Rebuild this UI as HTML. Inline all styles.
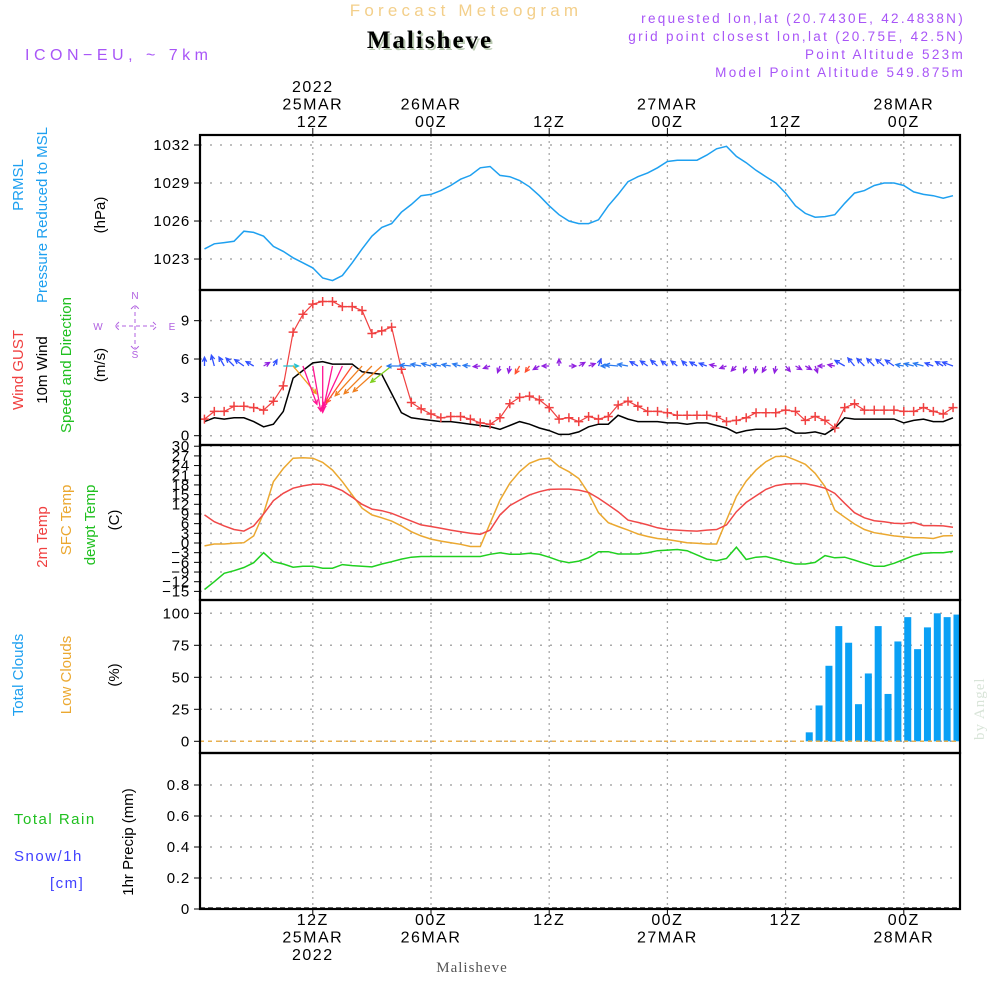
<!DOCTYPE html>
<html><head><meta charset="utf-8"><style>
html,body{margin:0;padding:0;background:#fff;}
svg{display:block;font-family:"Liberation Sans",sans-serif;}
</style></head><body>
<svg id="chart" width="1000" height="1000" xmlns="http://www.w3.org/2000/svg">
<text x="466" y="16" text-anchor="middle" font-size="17" fill="#f3cf8a" letter-spacing="4.2">Forecast Meteogram</text>
<text x="432" y="50" text-anchor="middle" font-size="25" font-weight="bold" font-family="Liberation Serif,serif" fill="#b8c8b0" letter-spacing="2">Malisheve</text>
<text x="430" y="48" text-anchor="middle" font-size="25" font-weight="bold" font-family="Liberation Serif,serif" fill="#000" letter-spacing="2">Malisheve</text>
<text x="25" y="60" font-size="16" fill="#a855f7" letter-spacing="4.5">ICON−EU, ~ 7km</text>
<g font-size="13.5" fill="#a855f7" text-anchor="end" letter-spacing="2.3">
<text x="965" y="23">requested lon,lat (20.7430E, 42.4838N)</text>
<text x="965" y="41">grid point closest lon,lat (20.75E, 42.5N)</text>
<text x="965" y="59">Point Altitude 523m</text>
<text x="965" y="77">Model Point Altitude 549.875m</text>
</g>
<text x="472" y="972" text-anchor="middle" font-size="15" font-family="Liberation Serif,serif" fill="#555" letter-spacing="1">Malisheve</text>
<text transform="translate(984,740) rotate(-90)" font-size="15" font-family="Liberation Serif,serif" fill="#d8e4d8" letter-spacing="1">by Angel</text>
<g id="grid"></g><g id="marks"></g><g id="frames"></g><g id="labels"></g>
</svg>
<script>
// ---- data (hourly from 01Z 25MAR 2022) ----
const hours = [1,2,3,4,5,6,7,8,9,10,11,12,13,14,15,16,17,18,19,20,21,22,23,24,25,26,27,28,29,30,31,32,33,34,35,36,37,38,39,40,41,42,43,44,45,46,47,48,49,50,51,52,53,54,55,56,57,58,59,60,61,62,63,64,65,66,67,68,69,70,71,72,73,74,75,76,77];
const pressure = [1023.8,1024.2,1024.3,1024.4,1025.2,1025.1,1024.8,1024.0,1023.6,1023.1,1022.7,1022.3,1021.5,1021.3,1021.7,1022.7,1023.8,1024.8,1025.5,1025.8,1026.7,1027.3,1028.0,1028.1,1028.4,1028.8,1029.3,1029.6,1030.2,1030.3,1029.6,1029.5,1029.2,1028.7,1028.0,1027.2,1026.5,1026.0,1025.8,1025.8,1026.1,1027.2,1028.1,1029.1,1029.5,1029.8,1030.2,1030.7,1030.8,1030.8,1030.8,1031.2,1031.7,1031.9,1031.1,1030.6,1030.0,1029.5,1029.0,1028.2,1027.2,1026.6,1026.3,1026.35,1026.5,1027.4,1028.2,1028.4,1028.8,1029.0,1029.0,1028.8,1028.3,1028.1,1028.0,1027.8,1028.0];
const gust = [1.3,1.9,1.9,2.3,2.3,2.2,2.0,2.7,3.9,8.1,9.5,10.3,10.5,10.5,10.1,10.1,9.8,8.0,8.2,8.5,5.2,2.6,2.1,1.7,1.4,1.5,1.5,1.3,1.0,0.9,1.4,2.5,3.0,3.1,2.8,2.2,1.3,1.4,1.1,1.5,1.3,1.5,2.4,2.7,2.3,1.9,1.9,1.8,1.6,1.6,1.6,1.6,1.5,1.1,1.2,1.4,1.8,1.8,1.8,2.0,1.9,1.2,1.5,1.2,0.6,2.2,2.5,2.0,2.0,2.0,2.0,1.9,1.9,2.2,1.9,1.7,2.2];
const wind = [1.1,1.4,1.3,1.4,1.4,1.1,0.7,0.9,1.9,4.5,5.1,5.7,5.8,5.6,5.6,5.6,5.0,4.9,4.8,3.3,1.8,1.4,1.3,1.2,1.1,1.1,1.0,0.9,0.8,0.7,0.5,0.8,1.1,0.9,0.6,0.4,0.1,0.1,0.3,0.7,0.9,0.9,1.6,1.3,1.1,1.1,1.1,1.0,1.0,0.9,1.0,1.0,0.8,0.6,0.2,0.4,0.5,0.5,0.5,0.6,0.2,0.2,0.3,0.1,0.6,1.4,1.3,1.3,1.3,1.3,1.3,1.0,1.2,1.3,1.1,1.1,1.4];
const windDir = [0,345,330,315,305,300,60,30,90,140,160,170,180,192,205,215,222,225,228,232,270,275,280,285,280,280,285,275,265,250,200,190,210,215,240,270,0,90,60,70,20,270,275,280,300,305,310,310,310,315,300,290,280,250,225,200,190,210,190,140,120,120,160,270,280,300,320,315,315,310,305,280,285,285,290,300,290];
const temp2m = [8.7,6.6,5.3,4.2,3.7,5.3,9.0,13.1,15.4,17.0,17.7,18.2,18.2,17.5,16.2,14.2,12.0,10.5,10.0,9.2,8.0,6.8,5.6,5.1,4.6,4.0,3.5,3.0,2.7,4.0,8.7,11.6,13.3,14.9,15.9,16.6,16.7,16.7,16.4,15.7,13.9,11.8,9.7,7.1,6.4,5.6,4.7,4.2,4.0,3.8,3.7,4.0,4.2,5.6,9.7,12.6,14.6,16.6,17.8,18.3,18.4,18.4,17.8,17.0,15.4,12.3,9.4,7.8,6.9,6.6,6.1,6.0,6.4,5.4,5.4,5.3,4.9];
const sfcTemp = [-0.9,-0.3,-0.3,-0.1,0.1,2.2,9.2,19.0,23.1,26.3,26.4,26.3,25.0,22.6,19.0,14.9,10.8,8.7,7.8,6.8,5.3,3.5,2.2,1.2,0.6,0.1,-0.4,-1.1,-1.1,6.1,13.3,18.5,22.1,24.7,25.9,26.3,23.7,22.1,20.0,15.4,9.4,6.3,5.1,4.0,2.8,2.0,1.4,1.1,0.6,0.1,-0.1,-0.3,-0.3,7.1,14.4,19.2,22.6,25.2,26.8,26.9,25.7,24.4,21.6,17.5,10.2,8.0,5.9,4.2,3.2,2.7,2.2,1.9,1.6,1.6,1.4,2.2,2.3];
const dewpt = [-14.4,-12.0,-9.4,-8.6,-7.6,-6.1,-3.0,-5.8,-6.5,-7.5,-7.2,-7.2,-7.8,-7.8,-6.7,-7.0,-7.2,-7.4,-6.5,-5.8,-5.0,-4.4,-4.2,-4.2,-4.2,-4.2,-4.2,-4.2,-4.2,-3.5,-3.0,-3.5,-3.5,-3.2,-3.5,-4.4,-5.5,-6.1,-5.6,-4.6,-2.7,-2.7,-3.4,-3.4,-3.4,-3.0,-2.4,-2.2,-2.0,-2.4,-3.7,-5.0,-5.5,-4.8,-1.3,-5.1,-4.4,-4.2,-5.0,-5.8,-6.5,-6.5,-6.0,-3.9,-4.6,-4.4,-5.3,-6.3,-7.2,-7.2,-6.3,-5.1,-3.9,-3.2,-3.0,-3.0,-2.6];
const cloudHours = [62,63,64,65,66,67,68,69,70,71,72,73,74,75,76,77];
const totalClouds = [7,28,59,90,77,29,53,90,37,78,97,72,89,100,97,99];
const precip = [];
const timeTicks = [12,24,36,48,60,72];
const topLabels = [["2022","25MAR","12Z"],["","26MAR","00Z"],["","","12Z"],["","27MAR","00Z"],["","","12Z"],["","28MAR","00Z"]];
const botLabels = [["12Z","25MAR","2022"],["00Z","26MAR",""],["12Z","",""],["00Z","27MAR",""],["12Z","",""],["00Z","28MAR",""]];
const pTicks = [1023,1026,1029,1032];
const wTicks = [0,3,6,9];
const tTicks = [30,27,24,21,18,15,12,9,6,3,0,-3,-6,-9,-12,-15];
const cTicks = [0,25,50,75,100];
const rTicks = [0,0.2,0.4,0.6,0.8];

const NS="http://www.w3.org/2000/svg";
const L=200,R=960;
const X=t=>312.8+(t-12)*9.85;
const yP=v=>145+(1032-v)*12.67;
const yW=v=>435.7-v*12.78;
const yT=v=>543-v*3.226;
const yC=v=>741.3-v*1.28;
const yR=v=>909-v*155;
const panels=[[135,290],[290,445],[445,600],[600,753],[753,909]];
function el(tag,attrs,parent,txt){const e=document.createElementNS(NS,tag);for(const k in attrs)e.setAttribute(k,attrs[k]);if(txt!==undefined)e.textContent=txt;parent.appendChild(e);return e;}
const grid=document.getElementById('grid'),marks=document.getElementById('marks'),frames=document.getElementById('frames'),labels=document.getElementById('labels');

timeTicks.forEach((t,i)=>{
  const g=el('line',{x1:X(t),x2:X(t),y1:135,y2:909,stroke:'#aaa','stroke-width':1.3,'stroke-dasharray':'2,4'},grid);
  
  
  topLabels[i].forEach((s,j)=>{ if(!s)return; const tx=el('text',{x:X(t),y:92+j*17.5,'text-anchor':'middle','font-size':16,'letter-spacing':1.5},labels,s);
    
    });
  botLabels[i].forEach((s,j)=>{ if(!s)return; const tx=el('text',{x:X(t),y:925+j*17.5,'text-anchor':'middle','font-size':16,'letter-spacing':1.5},labels,s);
    
    });
  el('line',{x1:X(t),x2:X(t),y1:128,y2:135,stroke:'#000','stroke-width':1},frames);
  el('line',{x1:X(t),x2:X(t),y1:909,y2:915,stroke:'#000','stroke-width':1},frames);
});
function hgrid(ticks,yf,fmt,name){
  ticks.forEach(v=>{
    const g=el('line',{x1:L,x2:R,y1:yf(v),y2:yf(v),stroke:'#aaa','stroke-width':1.5,'stroke-dasharray':'2,8'},grid);
    
    
    el('line',{x1:L-6,x2:L,y1:yf(v),y2:yf(v),stroke:'#000','stroke-width':1},frames);
    const tx=el('text',{x:L-10,y:yf(v)+5,'text-anchor':'end','font-size':15,'letter-spacing':0.8},labels,fmt(v));
    
    
  });
}
hgrid(pTicks,yP,v=>String(v),'pressure');
hgrid(wTicks,yW,v=>String(v),'wind');
hgrid(tTicks,yT,v=>v<0?'−'+(-v):String(v),'temp');
hgrid(cTicks,yC,v=>String(v),'cloud');
hgrid(rTicks,yR,v=>v===0?'0':v.toFixed(1),'precip');

function line(vals,ts,yf,color,name,w){
  const d=vals.map((v,i)=>(i?'L':'M')+X(ts[i]).toFixed(1)+','+yf(v).toFixed(1)).join('');
  const p=el('path',{d:d,fill:'none',stroke:color,'stroke-width':w||1.5},marks);
  
  
  return p;
}
line(pressure,hours,yP,'#1ea0f0','pressure-line');
line(wind,hours,yW,'#000','wind-speed-line');
line(gust,hours,yW,'#f04040','wind-gust-line',1.2);
gust.forEach((v,i)=>{const x=X(hours[i]),y=yW(v);
  const c=el('path',{d:`M${x-4.5},${y}H${x+4.5}M${x},${y-4.5}V${y+4.5}`,stroke:'#f04040','stroke-width':1.5},marks);
  
  });
function arrowColor(dir,sp){
  if(sp<0.85)return '#9020e0';
  if(dir>=60&&dir<120)return '#20c0d0';
  if(dir>=120&&dir<150)return '#f0a020';
  if(dir>=150&&dir<210)return '#ff1493';
  if(dir>=210&&dir<220)return '#ff5030';
  if(dir>=220&&dir<230)return '#f08020';
  if(dir>=230&&dir<250)return '#80d020';
  if(dir>=250&&dir<290)return '#2a7af0';
  return '#3050ff';
}
windDir.forEach((dir,i)=>{
  const sp=wind[i],len=Math.max(7,sp*8),r=dir*Math.PI/180;
  const x0=X(hours[i]),y0=366,x1=x0+Math.sin(r)*len,y1=y0-Math.cos(r)*len;
  const a1=r+Math.PI-0.45,a2=r+Math.PI+0.45;
  const col=arrowColor(dir,sp);
  const d=`M${x0.toFixed(1)},${y0}L${x1.toFixed(1)},${y1.toFixed(1)}M${(x1+Math.sin(a1)*5).toFixed(1)},${(y1-Math.cos(a1)*5).toFixed(1)}L${x1.toFixed(1)},${y1.toFixed(1)}L${(x1+Math.sin(a2)*5).toFixed(1)},${(y1-Math.cos(a2)*5).toFixed(1)}`;
  const a=el('path',{d:d,fill:'none',stroke:col,'stroke-width':1.3},marks);
  
  
});
line(sfcTemp,hours,yT,'#eba830','sfc-temp-line');
line(temp2m,hours,yT,'#f04848','temp-2m-line');
line(dewpt,hours,yT,'#20d020','dewpoint-line');
cloudHours.forEach((t,i)=>{
  const x=X(t+0.4),y=yC(totalClouds[i]);
  const b=el('rect',{x:x-3.5,y:y,width:7,height:yC(0)-y,fill:'#0aa0f5'},marks);
  
  
});
const lc=el('line',{x1:L,x2:R,y1:yC(0),y2:yC(0),stroke:'#e8b050','stroke-width':1.5,'stroke-dasharray':'4,4'},marks);


const pl=el('line',{x1:L,x2:R,y1:yR(0)-1,y2:yR(0)-1,stroke:'#333','stroke-width':1.5,'stroke-dasharray':'5,3'},marks);



panels.forEach(([a,b])=>{
  const f=el('rect',{x:L,y:a,width:R-L,height:b-a,fill:'none',stroke:'#000','stroke-width':2.2},frames);
  
  
});

function vlabel(x,y,text,color,name,size){
  const t=el('text',{transform:`translate(${x},${y}) rotate(-90)`,'text-anchor':'middle','font-size':size||15,fill:color},labels,text);
  
  
}
vlabel(23,185,'PRMSL','#1ea0f0','prmsl-label');
vlabel(47,215,'Pressure Reduced to MSL','#1ea0f0','pressure-axis-title');
vlabel(105,215,'(hPa)','#000','pressure-unit');
vlabel(23,370,'Wind GUST','#f04040','gust-axis-title');
vlabel(47,370,'10m Wind','#000','wind-axis-title');
vlabel(71,365,'Speed and Direction','#20c020','wind-direction-title');
vlabel(105,365,'(m/s)','#000','wind-unit');
vlabel(47,537,'2m Temp','#f04040','temp-2m-title');
vlabel(71,520,'SFC Temp','#eba830','sfc-temp-title');
vlabel(95,525,'dewpt Temp','#20c020','dewpoint-title');
vlabel(119,520,'(C)','#000','temp-unit');
vlabel(23,675,'Total Clouds','#1ea0f0','total-clouds-title');
vlabel(71,675,'Low Clouds','#eba830','low-clouds-title');
vlabel(119,675,'(%)','#000','cloud-unit');
vlabel(133,842,'1hr Precip (mm)','#000','precip-axis-title');
[['Total  Rain',14,824,'#20c020','rain-label'],['Snow/1h',14,861,'#4040ff','snow-label'],['[cm]',50,888,'#4040ff','snow-unit']].forEach(a=>{
  const t=el('text',{x:a[1],y:a[2],'font-size':15,fill:a[3],'letter-spacing':1.5,'xml:space':'preserve'},labels,a[0]);
  
  
});
const cg=el('g',{fill:'#b060e0','font-size':10,'text-anchor':'middle'},labels);


el('text',{x:135,y:299},cg,'N');el('text',{x:135,y:358},cg,'S');el('text',{x:98,y:330},cg,'W');el('text',{x:172,y:330},cg,'E');
el('path',{d:'M115,326H157M135,305V350M119,322L115,326L119,330M153,322L157,326L153,330M131,309L135,305L139,309M131,346L135,350L139,346',stroke:'#b060e0','stroke-width':1,fill:'none','stroke-dasharray':'4,3'},cg);
</script>
</body></html>
